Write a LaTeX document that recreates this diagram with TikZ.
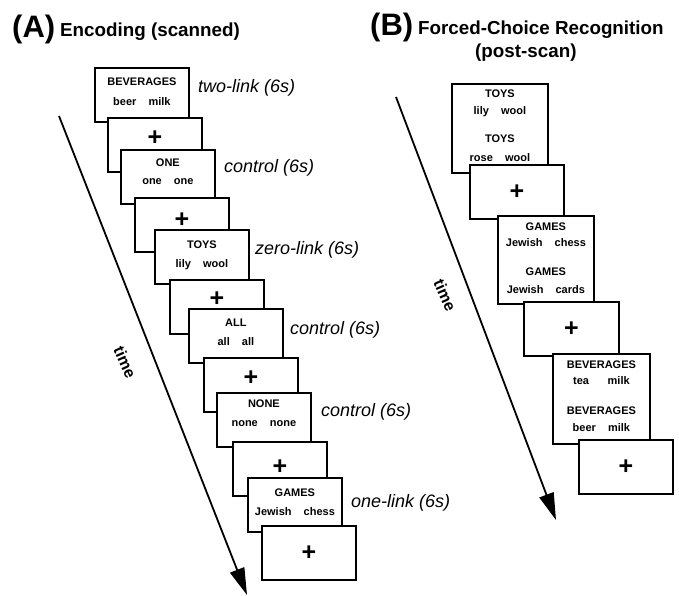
\documentclass[tikz,border=0pt]{standalone}
\usepackage{fontspec}
\setmainfont{Liberation Sans}
\usetikzlibrary{arrows.meta}
\tikzset{
  slide/.style={draw, line width=1.8pt, fill=white, anchor=north west, minimum width=94pt, minimum height=54pt, inner sep=0pt},
  word/.style={font=\fontsize{11}{13}\selectfont\bfseries, inner sep=0pt},
  fixplus/.style={font=\fontsize{25}{27}\selectfont\bfseries, inner sep=0pt},
  cond/.style={font=\fontsize{18}{20}\selectfont\itshape, anchor=west, inner sep=0pt},
  timelbl/.style={font=\fontsize{16}{18}\selectfont\bfseries, inner sep=0pt},
  panel/.style={font=\fontsize{31}{34}\selectfont\bfseries, anchor=base west, inner sep=0pt},
  ptitle/.style={font=\fontsize{18.8}{22}\selectfont\bfseries, anchor=base west, inner sep=0pt},
  timearrow/.style={line width=1.8pt, -{Triangle[length=27pt,width=15pt]}}
}
\newcommand{\pairw}[2]{#1\hspace{1.1em}#2}
\begin{document}
\begin{tikzpicture}[x=1pt,y=-1pt]
\useasboundingbox (0,0) rectangle (679,596);
% titles
\node[panel] (pa) at (12,38) {(A)};
\node[ptitle] (ta) at (60,37) {Encoding (scanned)};
\node[panel] (pb) at (370,36) {(B)};
\node[ptitle] (tb) at (418,35) {Forced-Choice Recognition};
\node[ptitle] (tb2) at (475,58) {(post-scan)};
% time arrows
\coordinate (tA0) at (59,116);
\coordinate (tA1) at (247,595);
\draw[timearrow] (tA0) -- (tA1);
\node[timelbl, rotate=-66] (timeA) at (125,362) {time};
\coordinate (tB0) at (396,97);
\coordinate (tB1) at (556,520);
\draw[timearrow] (tB0) -- (tB1);
\node[timelbl, rotate=-66] (timeB) at (445,295) {time};
% Panel A slides
\node[slide] (a1) at (94,67) {};
\node[word] (a1h) at ([yshift=-15pt]a1.north) {BEVERAGES};
\node[word] (a1w) at ([yshift=-35pt]a1.north) {\pairw{beer}{milk}};
\node[slide] (a2) at (107,117) {};
\node[fixplus] (a2p) at ([yshift=-21pt]a2.north) {+};
\node[slide] (a3) at (120,149) {};
\node[word] (a3h) at ([yshift=-14pt]a3.north) {ONE};
\node[word] (a3w) at ([yshift=-33pt]a3.north) {\pairw{one}{one}};
\node[slide] (a4) at (134,197) {};
\node[fixplus] (a4p) at ([yshift=-23pt]a4.north) {+};
\node[slide] (a5) at (154,229) {};
\node[word] (a5h) at ([yshift=-16pt]a5.north) {TOYS};
\node[word] (a5w) at ([yshift=-36pt]a5.north) {\pairw{lily}{wool}};
\node[slide] (a6) at (169,279) {};
\node[fixplus] (a6p) at ([yshift=-20pt]a6.north) {+};
\node[slide] (a7) at (188,308) {};
\node[word] (a7h) at ([yshift=-15pt]a7.north) {ALL};
\node[word] (a7w) at ([yshift=-34pt]a7.north) {\pairw{all}{all}};
\node[slide] (a8) at (203,357) {};
\node[fixplus] (a8p) at ([yshift=-21pt]a8.north) {+};
\node[slide] (a9) at (216,392) {};
\node[word] (a9h) at ([yshift=-12pt]a9.north) {NONE};
\node[word] (a9w) at ([yshift=-32pt]a9.north) {\pairw{none}{none}};
\node[slide] (a10) at (232,441) {};
\node[fixplus] (a10p) at ([yshift=-26pt]a10.north) {+};
\node[slide] (a11) at (247,477) {};
\node[word] (a11h) at ([yshift=-16pt]a11.north) {GAMES};
\node[word] (a11w) at ([yshift=-35pt]a11.north) {\pairw{Jewish}{chess}};
\node[slide] (a12) at (261,525) {};
\node[fixplus] (a12p) at (a12.center) {+};
% condition labels
\node[cond] (c1) at (198,88) {two-link (6s)};
\node[cond] (c2) at (224,168) {control (6s)};
\node[cond] (c3) at (255,250) {zero-link (6s)};
\node[cond] (c4) at (290,330) {control (6s)};
\node[cond] (c5) at (321,412) {control (6s)};
\node[cond] (c6) at (351,503) {one-link (6s)};
% Panel B slides
\node[slide, minimum width=96pt, minimum height=89pt] (b1) at (451,83) {};
\node[word] (b1h1) at ([yshift=-11pt]b1.north) {TOYS};
\node[word] (b1w1) at ([yshift=-29pt]b1.north) {\pairw{lily}{wool}};
\node[word] (b1h2) at ([yshift=-56pt]b1.north) {TOYS};
\node[word] (b1w2) at ([yshift=-75pt]b1.north) {\pairw{rose}{wool}};
\node[slide] (b2) at (469,164) {};
\node[fixplus] (b2p) at (b2.center) {+};
\node[slide, minimum width=96pt, minimum height=88pt] (b3) at (497,215) {};
\node[word] (b3h1) at ([yshift=-12pt]b3.north) {GAMES};
\node[word] (b3w1) at ([yshift=-28pt]b3.north) {\pairw{Jewish}{chess}};
\node[word] (b3h2) at ([yshift=-57pt]b3.north) {GAMES};
\node[word] (b3w2) at ([yshift=-75pt]b3.north) {\pairw{Jewish}{cards}};
\node[slide, minimum width=95pt] (b4) at (523,301) {};
\node[fixplus] (b4p) at (b4.center) {+};
\node[slide, minimum width=97pt, minimum height=90pt] (b5) at (552,353) {};
\node[word] (b5h1) at ([yshift=-12pt]b5.north) {BEVERAGES};
\node[word] (b5w1) at ([yshift=-28pt]b5.north) {\pairw{tea}{\hspace{0.6em}milk}};
\node[word] (b5h2) at ([yshift=-58pt]b5.north) {BEVERAGES};
\node[word] (b5w2) at ([yshift=-75pt]b5.north) {\pairw{beer}{milk}};
\node[slide] (b6) at (578,439) {};
\node[fixplus] (b6p) at (b6.center) {+};
\end{tikzpicture}
\end{document}
